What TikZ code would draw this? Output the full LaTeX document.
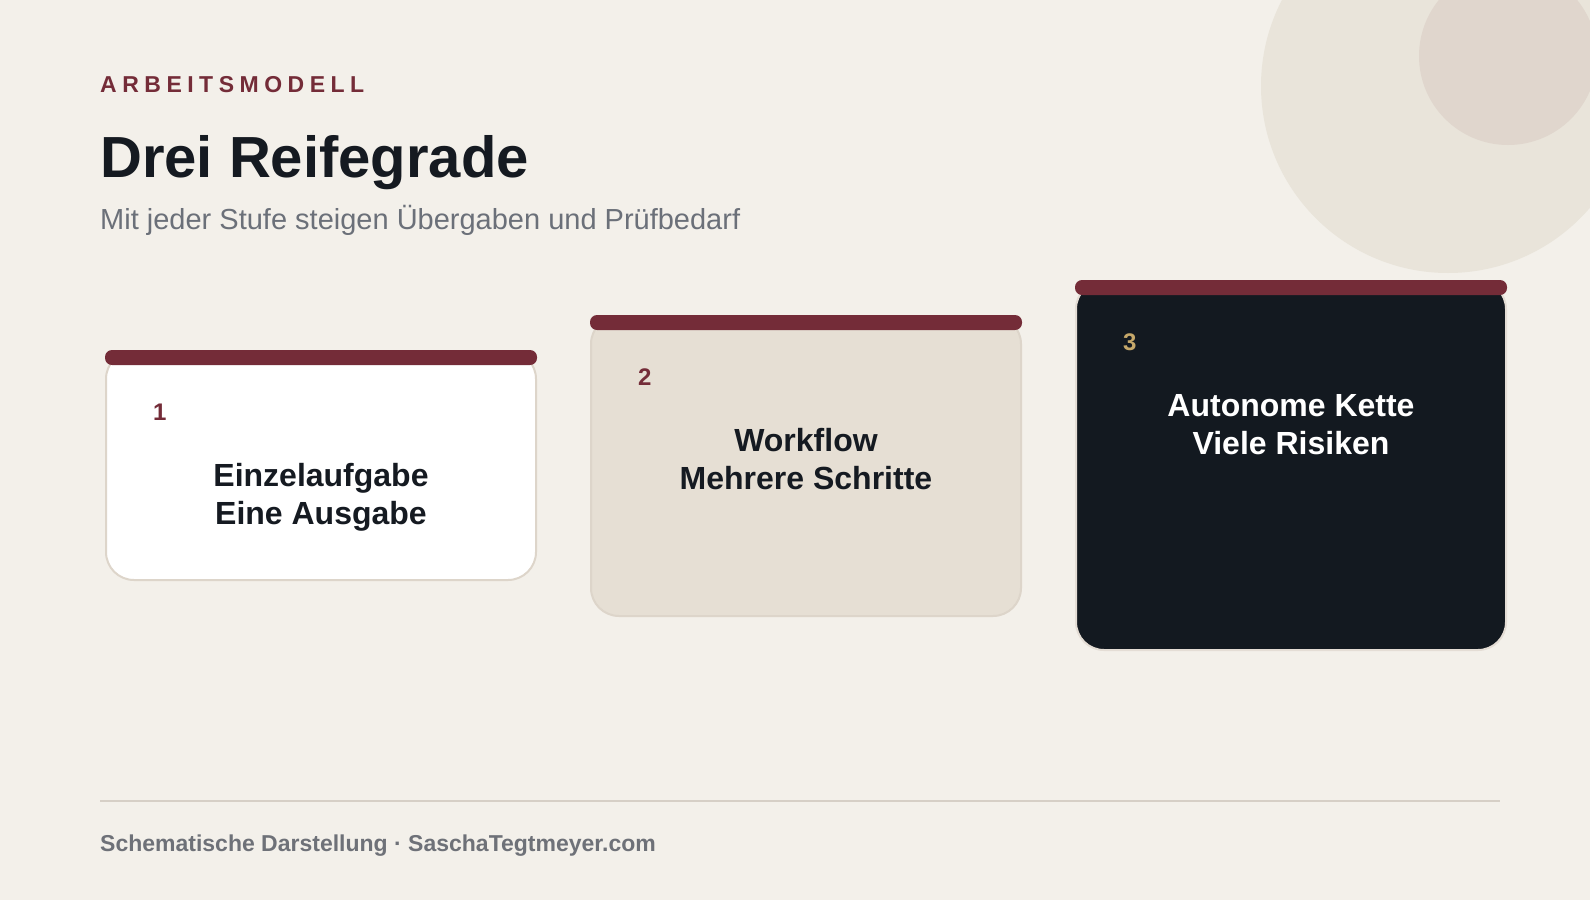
\documentclass[tikz,border=0pt]{standalone}
\usepackage{fontspec}
\setmainfont{Liberation Sans}
\definecolor{bgc}{HTML}{F3F0EA}
\definecolor{maroon}{HTML}{742C38}
\definecolor{ink}{HTML}{151A21}
\definecolor{graytxt}{HTML}{6B7079}
\definecolor{sand}{HTML}{E6DFD4}
\definecolor{sandline}{HTML}{DDD5CA}
\definecolor{night}{HTML}{131920}
\definecolor{gold}{HTML}{C6A86A}
\definecolor{circA}{HTML}{E9E4DA}
\definecolor{circB}{HTML}{E0D6CD}
\definecolor{rulec}{HTML}{D6CFC6}
\definecolor{foot}{HTML}{6E7178}
\tikzset{
  cardbox/.style={rounded corners=28pt, line width=2pt, draw=sandline, anchor=north west, inner sep=0pt, minimum width=430pt},
  barfill/.style={fill=maroon, rounded corners=7pt},
  numlbl/.style={anchor=base west, inner sep=0pt, font=\fontsize{24}{28}\selectfont\bfseries},
  cardlbl/.style={anchor=base, inner sep=0pt, align=center, font=\fontsize{32}{38.5}\selectfont\bfseries},
}
\begin{document}
\begin{tikzpicture}[x=1pt,y=-1pt]
\useasboundingbox (0,0) rectangle (1590,900);
\fill[bgc] (0,0) rectangle (1590,900);
\begin{scope}
\clip (0,0) rectangle (1590,900);
\fill[circA] (1448,86) circle[radius=187pt];
\fill[circB] (1508,56) circle[radius=89pt];
\end{scope}
% header
\node[anchor=base west, inner sep=0pt, text=maroon, font=\fontsize{23}{27}\selectfont\bfseries] (kicker) at (100,92)
  {A\kern5.5pt R\kern5.5pt B\kern5.5pt E\kern5.5pt I\kern5.5pt T\kern5.5pt S\kern5.5pt M\kern5.5pt O\kern5.5pt D\kern5.5pt E\kern5.5pt L\kern5.5pt L};
\node[anchor=base west, inner sep=0pt, text=ink, font=\fontsize{58}{66}\selectfont\bfseries] (title) at (100,177) {Drei Reifegrade};
\node[anchor=base west, inner sep=0pt, text=graytxt, font=\fontsize{29}{34}\selectfont] (sub) at (100,229) {Mit jeder Stufe steigen Übergaben und Prüfbedarf};
% cards
\node[cardbox, fill=white, minimum height=229pt] (c1) at (105,350) {};
\node[cardbox, fill=sand, minimum height=300pt] (c2) at (590,315) {};
\node[cardbox, fill=night, draw=sandline!80!white, minimum height=369pt] (c3) at (1075,280) {};
\path[barfill] (c1.north west) rectangle ([yshift=-15pt]c1.north east);
\path[barfill] (c2.north west) rectangle ([yshift=-15pt]c2.north east);
\path[barfill] (c3.north west) rectangle ([yshift=-15pt]c3.north east);
\node[numlbl, text=maroon] (n1) at ([xshift=48pt,yshift=-70pt]c1.north west) {1};
\node[numlbl, text=maroon] (n2) at ([xshift=48pt,yshift=-70pt]c2.north west) {2};
\node[numlbl, text=gold] (n3) at ([xshift=48pt,yshift=-70pt]c3.north west) {3};
\node[cardlbl, text=ink] (t1) at ([yshift=-174.5pt]c1.north) {Einzelaufgabe\\Eine Ausgabe};
\node[cardlbl, text=ink] (t2) at ([yshift=-174.5pt]c2.north) {Workflow\\Mehrere Schritte};
\node[cardlbl, text=white] (t3) at ([yshift=-174.5pt]c3.north) {Autonome Kette\\Viele Risiken};
% footer
\coordinate (rl) at (100,801);
\coordinate (rr) at (1500,801);
\draw[rulec, line width=2pt] (rl) -- (rr);
\node[anchor=base west, inner sep=0pt, text=foot, font=\fontsize{23}{27}\selectfont\bfseries] (footer) at (100,851) {Schematische Darstellung · SaschaTegtmeyer.com};
\end{tikzpicture}
\end{document}
